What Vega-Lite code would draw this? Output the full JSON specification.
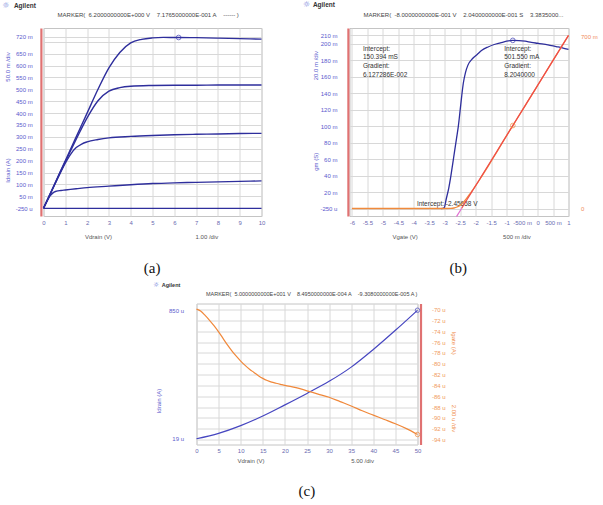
{
"$schema": "https://vega.github.io/schema/vega-lite/v6.json",
"background": "white",
"padding": {"left": 1.5, "top": 0, "right": 0, "bottom": 0},
"spacing": 3.5,
"config": {
  "view": {"stroke": "#c4c4c4", "strokeWidth": 1},
  "font": "Liberation Sans",
  "axis": {"labelFont": "Liberation Sans", "labelFontSize": 6, "ticks": false, "tickSize": 0, "domain": false, "grid": true, "gridColor": "#d8d8d8", "gridWidth": 1, "labelFlush": false, "labelOverlap": false, "labelBound": false, "tickCount": 200},
  "text": {"font": "Liberation Sans", "fontSize": 6.3, "color": "#444444"}
},
"vconcat": [
{
 "hconcat": [
 {
  "width": 218, "height": 188,
  "data": {"values": [{}]},
  "layer": [
   {
    "data": {"values": [
     {"curve":"c1","vdrain":0,"idrain":0},{"curve":"c1","vdrain":0.5,"idrain":0.1},{"curve":"c1","vdrain":1,"idrain":0.2},{"curve":"c1","vdrain":1.5,"idrain":0.3},{"curve":"c1","vdrain":2,"idrain":0.4},{"curve":"c1","vdrain":2.5,"idrain":0.5},{"curve":"c1","vdrain":3,"idrain":0.59},{"curve":"c1","vdrain":3.5,"idrain":0.655},{"curve":"c1","vdrain":4,"idrain":0.695},{"curve":"c1","vdrain":4.5,"idrain":0.71},{"curve":"c1","vdrain":5,"idrain":0.716},{"curve":"c1","vdrain":5.5,"idrain":0.718},{"curve":"c1","vdrain":6.2,"idrain":0.7177},{"curve":"c1","vdrain":7,"idrain":0.717},{"curve":"c1","vdrain":8,"idrain":0.715},{"curve":"c1","vdrain":9,"idrain":0.713},{"curve":"c1","vdrain":10,"idrain":0.711},
     {"curve":"c2","vdrain":0,"idrain":0},{"curve":"c2","vdrain":0.5,"idrain":0.098},{"curve":"c2","vdrain":1,"idrain":0.196},{"curve":"c2","vdrain":1.5,"idrain":0.29},{"curve":"c2","vdrain":2,"idrain":0.38},{"curve":"c2","vdrain":2.5,"idrain":0.452},{"curve":"c2","vdrain":3,"idrain":0.492},{"curve":"c2","vdrain":3.5,"idrain":0.507},{"curve":"c2","vdrain":4,"idrain":0.513},{"curve":"c2","vdrain":5,"idrain":0.516},{"curve":"c2","vdrain":6,"idrain":0.517},{"curve":"c2","vdrain":7,"idrain":0.517},{"curve":"c2","vdrain":8,"idrain":0.518},{"curve":"c2","vdrain":9,"idrain":0.518},{"curve":"c2","vdrain":10,"idrain":0.518},
     {"curve":"c3","vdrain":0,"idrain":0},{"curve":"c3","vdrain":0.5,"idrain":0.097},{"curve":"c3","vdrain":1,"idrain":0.19},{"curve":"c3","vdrain":1.25,"idrain":0.228},{"curve":"c3","vdrain":1.5,"idrain":0.255},{"curve":"c3","vdrain":1.75,"idrain":0.27},{"curve":"c3","vdrain":2,"idrain":0.279},{"curve":"c3","vdrain":2.5,"idrain":0.289},{"curve":"c3","vdrain":3,"idrain":0.296},{"curve":"c3","vdrain":4,"idrain":0.302},{"curve":"c3","vdrain":5,"idrain":0.306},{"curve":"c3","vdrain":6,"idrain":0.309},{"curve":"c3","vdrain":7,"idrain":0.311},{"curve":"c3","vdrain":8,"idrain":0.312},{"curve":"c3","vdrain":9,"idrain":0.314},{"curve":"c3","vdrain":10,"idrain":0.315},
     {"curve":"c4","vdrain":0,"idrain":0},{"curve":"c4","vdrain":0.15,"idrain":0.028},{"curve":"c4","vdrain":0.3,"idrain":0.052},{"curve":"c4","vdrain":0.45,"idrain":0.066},{"curve":"c4","vdrain":0.6,"idrain":0.072},{"curve":"c4","vdrain":0.8,"idrain":0.075},{"curve":"c4","vdrain":1,"idrain":0.077},{"curve":"c4","vdrain":1.5,"idrain":0.082},{"curve":"c4","vdrain":2,"idrain":0.087},{"curve":"c4","vdrain":3,"idrain":0.093},{"curve":"c4","vdrain":4,"idrain":0.099},{"curve":"c4","vdrain":5,"idrain":0.104},{"curve":"c4","vdrain":6,"idrain":0.107},{"curve":"c4","vdrain":7,"idrain":0.109},{"curve":"c4","vdrain":8,"idrain":0.111},{"curve":"c4","vdrain":9,"idrain":0.113},{"curve":"c4","vdrain":10,"idrain":0.115},
     {"curve":"c5","vdrain":0,"idrain":-0.00025},{"curve":"c5","vdrain":10,"idrain":-0.00025}
    ]},
    "mark": {"type": "line", "color": "#2e2e9c", "strokeWidth": 1.4, "interpolate": "monotone"},
    "encoding": {
     "x": {"field": "vdrain", "type": "quantitative", "scale": {"domain": [0, 10], "nice": false, "zero": false},
           "axis": {"title": null, "values": [0,1,2,3,4,5,6,7,8,9,10], "tickCount": 200, "labelExpr": "'' + datum.value", "labelColor": "#6a6ab0", "labelPadding": 3}},
     "y": {"field": "idrain", "type": "quantitative", "scale": {"domain": [-0.0324, 0.7576], "nice": false, "zero": false},
           "axis": {"title": null, "values": [-0.00025,0.05,0.1,0.15,0.2,0.25,0.3,0.35,0.4,0.45,0.5,0.55,0.6,0.65,0.7,0.72], "tickCount": 200,
                    "labelExpr": "datum.value < 0 ? '-250 u' : (abs(datum.value - 0.7) < 0.000001 ? '' : round(datum.value*1000) + ' m')",
                    "labelColor": "#5a5acd", "labelPadding": 8.7, "domain": true, "domainColor": "#e07272", "domainWidth": 2.2, "offset": 2.6}},
     "detail": {"field": "curve"}
    }
   },
   {"data": {"values": [{"vdrain": 6.2, "idrain": 0.71765}]},
    "mark": {"type": "point", "shape": "circle", "filled": false, "color": "#3a3ab4", "size": 22, "strokeWidth": 1},
    "encoding": {"x": {"field": "vdrain", "type": "quantitative"}, "y": {"field": "idrain", "type": "quantitative"}}},
   {"mark": {"type": "text", "text": "☼", "fontSize": 8, "color": "#6a7ad8", "font": "DejaVu Sans", "align": "center", "baseline": "middle"},
    "encoding": {"x": {"datum": -1.725}, "y": {"datum": 0.852}}},
   {"mark": {"type": "text", "text": "Agilent", "fontSize": 6.5, "fontWeight": "bold", "color": "#333333", "align": "left", "baseline": "middle"},
    "encoding": {"x": {"datum": -1.358}, "y": {"datum": 0.852}}},
   {"mark": {"type": "text", "text": "MARKER(\u00a0\u00a06.2000000000E+000 V\u00a0\u00a0\u00a0\u00a07.1765000000E-001 A\u00a0\u00a0\u00a0\u00a0------ )", "fontSize": 6, "align": "center", "baseline": "middle"},
    "encoding": {"x": {"datum": 4.803}, "y": {"datum": 0.8122}}},
   {"mark": {"type": "text", "text": "50.0 m /div", "fontSize": 6, "angle": 270, "color": "#5a5acd", "align": "center", "baseline": "middle"},
    "encoding": {"x": {"datum": -1.606}, "y": {"datum": 0.5937}}},
   {"mark": {"type": "text", "text": "Idrain (A)", "fontSize": 6, "angle": 270, "color": "#5a5acd", "align": "center", "baseline": "middle"},
    "encoding": {"x": {"datum": -1.606}, "y": {"datum": 0.1589}}},
   {"mark": {"type": "text", "text": "Vdrain (V)", "fontSize": 6, "color": "#555555", "align": "center", "baseline": "middle"},
    "encoding": {"x": {"datum": 2.523}, "y": {"datum": -0.1193}}},
   {"mark": {"type": "text", "text": "1.00 /div", "fontSize": 6, "color": "#555555", "align": "center", "baseline": "middle"},
    "encoding": {"x": {"datum": 7.495}, "y": {"datum": -0.1193}}},
   {"mark": {"type": "text", "text": "(a)", "fontSize": 15, "font": "Liberation Serif", "color": "#111111", "align": "center", "baseline": "middle"},
    "encoding": {"x": {"datum": 4.986}, "y": {"datum": -0.2529}}}
  ]
 },
 {
  "width": 219, "height": 188,
  "data": {"values": [{}]},
  "layer": [
   {"layer": [
    {"data": {"values": [
      {"vgate":-3.12,"gm":0},{"vgate":-3.02,"gm":0.001},{"vgate":-2.95,"gm":0.012},{"vgate":-2.87,"gm":0.025},{"vgate":-2.8,"gm":0.04},{"vgate":-2.74,"gm":0.055},{"vgate":-2.68,"gm":0.07},{"vgate":-2.62,"gm":0.085},{"vgate":-2.56,"gm":0.1},{"vgate":-2.5,"gm":0.12},{"vgate":-2.45,"gm":0.137},{"vgate":-2.4,"gm":0.152},{"vgate":-2.33,"gm":0.165},{"vgate":-2.25,"gm":0.174},{"vgate":-2.1,"gm":0.182},{"vgate":-1.95,"gm":0.187},{"vgate":-1.8,"gm":0.192},{"vgate":-1.6,"gm":0.196},{"vgate":-1.4,"gm":0.199},{"vgate":-1.2,"gm":0.201},{"vgate":-1.0,"gm":0.203},{"vgate":-0.8,"gm":0.204},{"vgate":-0.6,"gm":0.2038},{"vgate":-0.4,"gm":0.203},{"vgate":-0.2,"gm":0.2015},{"vgate":0,"gm":0.2005},{"vgate":0.2,"gm":0.1995},{"vgate":0.4,"gm":0.198},{"vgate":0.6,"gm":0.1965},{"vgate":0.8,"gm":0.195},{"vgate":1.0,"gm":0.193}
     ]},
     "mark": {"type": "line", "color": "#2e2e9c", "strokeWidth": 1.3, "interpolate": "monotone"},
     "encoding": {
      "x": {"field": "vgate", "type": "quantitative", "scale": {"domain": [-6.078, 1], "nice": false, "zero": false},
            "axis": {"title": null, "values": [-6,-5.5,-5,-4.5,-4,-3.5,-3,-2.5,-2,-1.5,-1,-0.5,0,0.5,1], "tickCount": 200,
                     "labelExpr": "datum.value == -0.5 ? '-500 m' : (datum.value == 0.5 ? '500 m' : '' + datum.value)",
                     "labelColor": "#6a6ab0", "labelPadding": 3}},
      "y": {"field": "gm", "type": "quantitative", "scale": {"domain": [-0.0089, 0.219], "nice": false, "zero": false},
            "axis": {"title": null, "values": [-0.00025,0.02,0.04,0.06,0.08,0.1,0.12,0.14,0.16,0.18,0.2,0.21], "tickCount": 200,
                     "labelExpr": "datum.value < 0 ? '-250 u' : round(datum.value*1000) + ' m'",
                     "labelColor": "#5a5acd", "labelPadding": 11, "domain": true, "domainColor": "#e07272", "domainWidth": 2.2, "offset": 1.6}}
     }},
    {"data": {"values": [{"vgate": -0.8, "gm": 0.204}]},
     "mark": {"type": "point", "shape": "circle", "filled": false, "color": "#3a3ab4", "size": 22, "strokeWidth": 1},
     "encoding": {"x": {"field": "vgate", "type": "quantitative"}, "y": {"field": "gm", "type": "quantitative"}}},
    {"mark": {"type": "text", "text": "☼", "fontSize": 8, "color": "#6a7ad8", "font": "DejaVu Sans", "align": "center", "baseline": "middle"},
     "encoding": {"x": {"datum": -7.468}, "y": {"datum": 0.2463}}},
    {"mark": {"type": "text", "text": "Agilent", "fontSize": 6.5, "fontWeight": "bold", "color": "#333333", "align": "left", "baseline": "middle"},
     "encoding": {"x": {"datum": -7.261}, "y": {"datum": 0.2463}}},
    {"mark": {"type": "text", "text": "MARKER(\u00a0\u00a0-8.0000000000E-001 V\u00a0\u00a0\u00a0\u00a02.0400000000E-001 S\u00a0\u00a0\u00a0\u00a03.3835000...", "fontSize": 6, "align": "left", "baseline": "middle"},
     "encoding": {"x": {"datum": -5.625}, "y": {"datum": 0.2348}}},
    {"mark": {"type": "text", "text": ["Intercept:", "150.394 mS", "Gradient:", "6.127286E-002"], "fontSize": 6.5, "lineHeight": 8.8, "color": "#333333", "align": "left", "baseline": "alphabetic"},
     "encoding": {"x": {"datum": -5.645}, "y": {"datum": 0.1916}}},
    {"mark": {"type": "text", "text": ["Intercept:", "501.550 mA", "Gradient:", "8.2040000"], "fontSize": 6.5, "lineHeight": 8.8, "color": "#333333", "align": "left", "baseline": "alphabetic"},
     "encoding": {"x": {"datum": -1.078}, "y": {"datum": 0.1916}}},
    {"mark": {"type": "text", "text": "Intercept: -2.45658 V", "fontSize": 6.5, "color": "#333333", "align": "left", "baseline": "alphabetic"},
     "encoding": {"x": {"datum": -3.9}, "y": {"datum": 0.0037}}},
    {"mark": {"type": "text", "text": "20.0 m /div", "fontSize": 6, "angle": 270, "color": "#5a5acd", "align": "center", "baseline": "middle"},
     "encoding": {"x": {"datum": -7.17}, "y": {"datum": 0.1733}}},
    {"mark": {"type": "text", "text": "gm (S)", "fontSize": 6, "angle": 270, "color": "#5a5acd", "align": "center", "baseline": "middle"},
     "encoding": {"x": {"datum": -7.17}, "y": {"datum": 0.0569}}},
    {"mark": {"type": "text", "text": "Vgate (V)", "fontSize": 6, "color": "#555555", "align": "center", "baseline": "middle"},
     "encoding": {"x": {"datum": -4.278}, "y": {"datum": -0.034}}},
    {"mark": {"type": "text", "text": "500 m /div", "fontSize": 6, "color": "#555555", "align": "center", "baseline": "middle"},
     "encoding": {"x": {"datum": -0.667}, "y": {"datum": -0.034}}},
    {"mark": {"type": "text", "text": "(b)", "fontSize": 15, "font": "Liberation Serif", "color": "#111111", "align": "center", "baseline": "middle"},
     "encoding": {"x": {"datum": -2.565}, "y": {"datum": -0.0725}}}
   ]},
   {"layer": [
    {"data": {"values": [
      {"vgate":-6,"id":0},{"vgate":-3,"id":0},{"vgate":-2.8,"id":0.0005},{"vgate":-2.7,"id":0.002},{"vgate":-2.6,"id":0.006},{"vgate":-2.5,"id":0.013},{"vgate":-2.4,"id":0.025},{"vgate":-2.3,"id":0.04},{"vgate":-2.2,"id":0.057},{"vgate":-2.1,"id":0.075},{"vgate":-2.0,"id":0.093},{"vgate":-1.9,"id":0.112},{"vgate":-1.8,"id":0.132},{"vgate":-1.6,"id":0.172},{"vgate":-1.4,"id":0.213},{"vgate":-1.2,"id":0.255},{"vgate":-1.0,"id":0.297},{"vgate":-0.8,"id":0.338},{"vgate":-0.6,"id":0.379},{"vgate":-0.4,"id":0.419},{"vgate":-0.2,"id":0.46},{"vgate":0,"id":0.501},{"vgate":0.2,"id":0.542},{"vgate":0.4,"id":0.583},{"vgate":0.6,"id":0.624},{"vgate":0.8,"id":0.665},{"vgate":1.0,"id":0.705}
     ]},
     "mark": {"type": "line", "color": "#f08a3c", "strokeWidth": 1.3, "interpolate": "monotone"},
     "encoding": {
      "x": {"field": "vgate", "type": "quantitative"},
      "y": {"field": "id", "type": "quantitative", "scale": {"domain": [-0.0306, 0.7355], "nice": false, "zero": false},
            "axis": {"title": null, "orient": "right", "values": [0, 0.7], "tickCount": 200, "grid": false,
                     "labelExpr": "datum.value == 0 ? '0' : round(datum.value*1000) + ' m'",
                     "labelColor": "#f08a5a", "labelPadding": 12, "labelAlign": "left"}}
     }},
    {"data": {"values": [{"vgate": -2.45658, "id": 0}, {"vgate": 1.0, "id": 0.7056}]},
     "mark": {"type": "line", "color": "#f04a4a", "strokeWidth": 1.2},
     "encoding": {"x": {"field": "vgate", "type": "quantitative"}, "y": {"field": "id", "type": "quantitative"}}},
    {"data": {"values": [{"vgate": -2.62, "id": -0.0329}, {"vgate": -2.45658, "id": 0}]},
     "mark": {"type": "line", "color": "#e070d0", "strokeWidth": 1.2},
     "encoding": {"x": {"field": "vgate", "type": "quantitative"}, "y": {"field": "id", "type": "quantitative"}}},
    {"data": {"values": [{"vgate": -0.8, "id": 0.338}]},
     "mark": {"type": "point", "shape": "circle", "filled": false, "color": "#f08a3c", "size": 22, "strokeWidth": 1},
     "encoding": {"x": {"field": "vgate", "type": "quantitative"}, "y": {"field": "id", "type": "quantitative"}}}
   ]}
  ],
  "resolve": {"scale": {"y": "independent"}}
 }
 ],
 "spacing": 88,
 "bounds": "flush"
},
{
 "hconcat": [
  {"width": 152.2, "height": 1, "data": {"values": [{}]}, "mark": {"type": "point", "opacity": 0}, "view": {"stroke": null}},
  {
   "width": 221, "height": 141,
   "data": {"values": [{}]},
   "layer": [
    {"layer": [
     {"data": {"values": [
       {"vdrain":0,"idrain_uA":19},{"vdrain":5,"idrain_uA":54},{"vdrain":10,"idrain_uA":104},{"vdrain":15,"idrain_uA":166},{"vdrain":20,"idrain_uA":238},{"vdrain":25,"idrain_uA":312},{"vdrain":30,"idrain_uA":390},{"vdrain":35,"idrain_uA":482},{"vdrain":40,"idrain_uA":596},{"vdrain":45,"idrain_uA":720},{"vdrain":50,"idrain_uA":849.5}
      ]},
      "mark": {"type": "line", "color": "#4646c0", "strokeWidth": 1.2, "interpolate": "monotone"},
      "encoding": {
       "x": {"field": "vdrain", "type": "quantitative", "scale": {"domain": [0, 50], "nice": false, "zero": false},
             "axis": {"title": null, "values": [0,5,10,15,20,25,30,35,40,45,50], "tickCount": 200, "labelExpr": "'' + datum.value", "labelColor": "#6a6ab0", "labelPadding": 3}},
       "y": {"field": "idrain_uA", "type": "quantitative", "scale": {"domain": [-18, 893], "nice": false, "zero": false},
             "axis": {"title": null, "values": [19, 850], "tickCount": 200, "grid": false, "labelExpr": "datum.value + ' u'", "labelColor": "#5a5acd", "labelPadding": 13}}
      }},
     {"data": {"values": [{"vdrain": 50, "idrain_uA": 849.5}]},
      "mark": {"type": "point", "shape": "circle", "filled": false, "color": "#4646c0", "size": 20, "strokeWidth": 1},
      "encoding": {"x": {"field": "vdrain", "type": "quantitative"}, "y": {"field": "idrain_uA", "type": "quantitative"}}},
     {"mark": {"type": "text", "text": "☼", "fontSize": 7, "color": "#6a7ad8", "font": "DejaVu Sans", "align": "center", "baseline": "middle"},
      "encoding": {"x": {"datum": -9.155}, "y": {"datum": 1011}}},
     {"mark": {"type": "text", "text": "Agilent", "fontSize": 5.5, "fontWeight": "bold", "color": "#333333", "align": "left", "baseline": "middle"},
      "encoding": {"x": {"datum": -7.866}, "y": {"datum": 1011}}},
     {"mark": {"type": "text", "text": "MARKER(\u00a0\u00a05.0000000000E+001 V\u00a0\u00a0\u00a0\u00a08.4950000000E-004 A\u00a0\u00a0\u00a0\u00a0-9.3080000000E-005 A )", "fontSize": 5.5, "align": "center", "baseline": "middle"},
      "encoding": {"x": {"datum": 26.06}, "y": {"datum": 953.1}}},
     {"mark": {"type": "text", "text": "Idrain (A)", "fontSize": 6, "angle": 270, "color": "#5a5acd", "align": "center", "baseline": "middle"},
      "encoding": {"x": {"datum": -8.409}, "y": {"datum": 263}}},
     {"mark": {"type": "text", "text": "Vdrain (V)", "fontSize": 6, "color": "#555555", "align": "center", "baseline": "middle"},
      "encoding": {"x": {"datum": 12.32}, "y": {"datum": -124}}},
     {"mark": {"type": "text", "text": "5.00 /div", "fontSize": 6, "color": "#555555", "align": "center", "baseline": "middle"},
      "encoding": {"x": {"datum": 37.57}, "y": {"datum": -124}}},
     {"mark": {"type": "text", "text": "Igate (A)", "fontSize": 6, "angle": 90, "color": "#f09050", "align": "center", "baseline": "middle"},
      "encoding": {"x": {"datum": 58.27}, "y": {"datum": 636.5}}},
     {"mark": {"type": "text", "text": "2.00 u /div", "fontSize": 6, "angle": 90, "color": "#f09050", "align": "center", "baseline": "middle"},
      "encoding": {"x": {"datum": 58.27}, "y": {"datum": 150}}},
     {"mark": {"type": "text", "text": "(c)", "fontSize": 15, "font": "Liberation Serif", "color": "#111111", "align": "center", "baseline": "middle"},
      "encoding": {"x": {"datum": 24.98}, "y": {"datum": -316.5}}}
    ]},
    {"layer": [
     {"data": {"values": [
       {"vdrain":0,"igate_uA":-69.9},{"vdrain":1,"igate_uA":-70.3},{"vdrain":2,"igate_uA":-71.1},{"vdrain":3,"igate_uA":-72.0},{"vdrain":4,"igate_uA":-73.0},{"vdrain":5,"igate_uA":-74.1},{"vdrain":6,"igate_uA":-75.3},{"vdrain":7,"igate_uA":-76.5},{"vdrain":8,"igate_uA":-77.6},{"vdrain":9,"igate_uA":-78.6},{"vdrain":10,"igate_uA":-79.5},{"vdrain":11,"igate_uA":-80.3},{"vdrain":12,"igate_uA":-81.0},{"vdrain":13,"igate_uA":-81.6},{"vdrain":14,"igate_uA":-82.2},{"vdrain":15,"igate_uA":-82.7},{"vdrain":16,"igate_uA":-83.1},{"vdrain":17,"igate_uA":-83.4},{"vdrain":18,"igate_uA":-83.6},{"vdrain":19,"igate_uA":-83.8},{"vdrain":20,"igate_uA":-84.0},{"vdrain":22.5,"igate_uA":-84.4},{"vdrain":25,"igate_uA":-85.0},{"vdrain":27.5,"igate_uA":-85.6},{"vdrain":30,"igate_uA":-86.2},{"vdrain":32.5,"igate_uA":-87.0},{"vdrain":35,"igate_uA":-87.8},{"vdrain":37.5,"igate_uA":-88.7},{"vdrain":40,"igate_uA":-89.5},{"vdrain":42.5,"igate_uA":-90.3},{"vdrain":45,"igate_uA":-91.1},{"vdrain":47.5,"igate_uA":-92.0},{"vdrain":50,"igate_uA":-93.08}
      ]},
      "mark": {"type": "line", "color": "#f0883a", "strokeWidth": 1.2, "interpolate": "monotone"},
      "encoding": {
       "x": {"field": "vdrain", "type": "quantitative"},
       "y": {"field": "igate_uA", "type": "quantitative", "scale": {"domain": [-94.93, -68.85], "nice": false, "zero": false},
             "axis": {"title": null, "orient": "right", "values": [-94,-92,-90,-88,-86,-84,-82,-80,-78,-76,-74,-72,-70], "tickCount": 200,
                      "labelExpr": "round(datum.value) + ' u'", "labelColor": "#f09a60", "labelPadding": 11, "labelAlign": "left",
                      "grid": true, "domain": true, "domainColor": "#e07272", "domainWidth": 2.2, "offset": 3}}
      }},
     {"data": {"values": [{"vdrain": 50, "igate_uA": -93.08}]},
      "mark": {"type": "point", "shape": "circle", "filled": false, "color": "#f0883a", "size": 20, "strokeWidth": 1},
      "encoding": {"x": {"field": "vdrain", "type": "quantitative"}, "y": {"field": "igate_uA", "type": "quantitative"}}}
    ]}
   ],
   "resolve": {"scale": {"y": "independent"}}
  }
 ],
 "spacing": 0,
 "bounds": "flush"
}
]
}
